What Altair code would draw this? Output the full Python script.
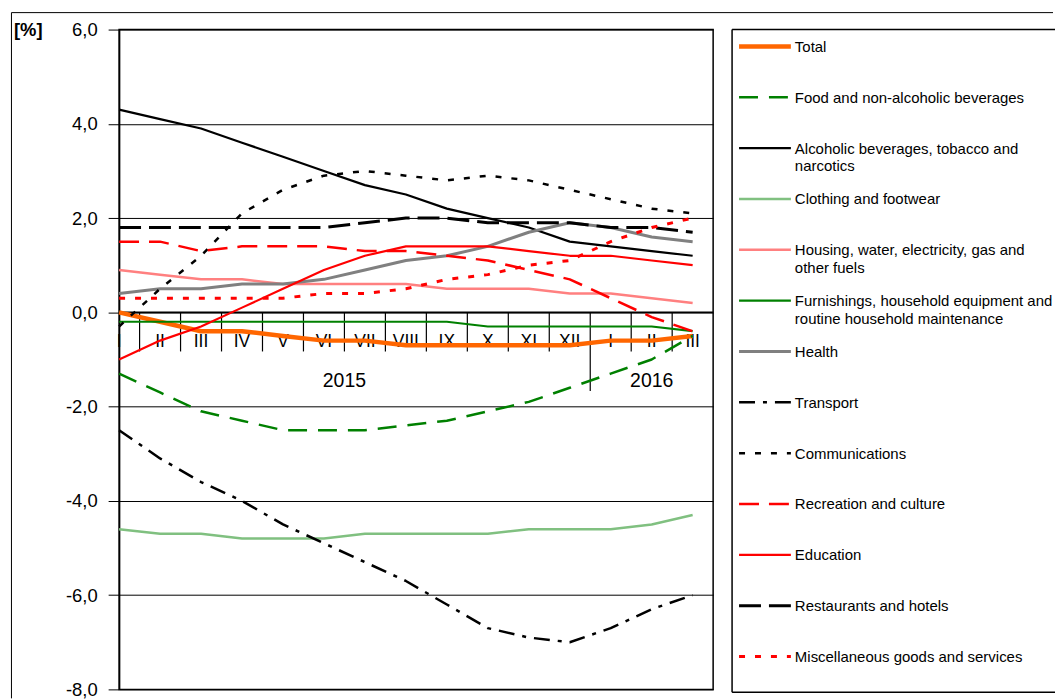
import altair as alt
import pandas as pd

# ---------------- data ----------------
months = ["I", "II", "III", "IV", "V", "VI", "VII", "VIII", "IX", "X", "XI", "XII", "I", "II", "III"]
years = ["2015", "2016"]
year_centers = [5.5, 13.0]

series_names = [
    "Total",
    "Food and non-alcoholic beverages",
    "Alcoholic beverages, tobacco and narcotics",
    "Clothing and footwear",
    "Housing, water, electricity, gas and other fuels",
    "Furnishings, household equipment and routine household maintenance",
    "Health",
    "Transport",
    "Communications",
    "Recreation and culture",
    "Education",
    "Restaurants and hotels",
    "Miscellaneous goods and services",
]
legend_labels = [
    "Total",
    "Food and non-alcoholic beverages",
    "Alcoholic beverages, tobacco and\nnarcotics",
    "Clothing and footwear",
    "Housing, water, electricity, gas and\nother fuels",
    "Furnishings, household equipment and\nroutine household maintenance",
    "Health",
    "Transport",
    "Communications",
    "Recreation and culture",
    "Education",
    "Restaurants and hotels",
    "Miscellaneous goods and services",
]

total = [0.0, -0.2, -0.4, -0.4, -0.5, -0.6, -0.6, -0.7, -0.7, -0.7, -0.7, -0.7, -0.6, -0.6, -0.5]
food = [-1.3, -1.7, -2.1, -2.3, -2.5, -2.5, -2.5, -2.4, -2.3, -2.1, -1.9, -1.6, -1.3, -1.0, -0.5]
alcohol = [4.3, 4.1, 3.9, 3.6, 3.3, 3.0, 2.7, 2.5, 2.2, 2.0, 1.8, 1.5, 1.4, 1.3, 1.2]
clothing = [-4.6, -4.7, -4.7, -4.8, -4.8, -4.8, -4.7, -4.7, -4.7, -4.7, -4.6, -4.6, -4.6, -4.5, -4.3]
housing = [0.9, 0.8, 0.7, 0.7, 0.6, 0.6, 0.6, 0.6, 0.5, 0.5, 0.5, 0.4, 0.4, 0.3, 0.2]
furnishings = [-0.2, -0.2, -0.2, -0.2, -0.2, -0.2, -0.2, -0.2, -0.2, -0.3, -0.3, -0.3, -0.3, -0.3, -0.4]
health = [0.4, 0.5, 0.5, 0.6, 0.6, 0.7, 0.9, 1.1, 1.2, 1.4, 1.7, 1.9, 1.8, 1.6, 1.5]
transport = [-2.5, -3.1, -3.6, -4.0, -4.5, -4.9, -5.3, -5.7, -6.2, -6.7, -6.9, -7.0, -6.7, -6.3, -6.0]
communications = [-0.3, 0.5, 1.2, 2.1, 2.6, 2.9, 3.0, 2.9, 2.8, 2.9, 2.8, 2.6, 2.4, 2.2, 2.1]
recreation = [1.5, 1.5, 1.3, 1.4, 1.4, 1.4, 1.3, 1.3, 1.2, 1.1, 0.9, 0.7, 0.3, -0.1, -0.4]
education = [-1.0, -0.6, -0.3, 0.1, 0.5, 0.9, 1.2, 1.4, 1.4, 1.4, 1.3, 1.2, 1.2, 1.1, 1.0]
restaurants = [1.8, 1.8, 1.8, 1.8, 1.8, 1.8, 1.9, 2.0, 2.0, 1.9, 1.9, 1.9, 1.8, 1.8, 1.7]
misc = [0.3, 0.3, 0.3, 0.3, 0.3, 0.4, 0.4, 0.5, 0.7, 0.8, 1.0, 1.1, 1.5, 1.8, 2.0]

all_values = [total, food, alcohol, clothing, housing, furnishings, health,
              transport, communications, recreation, education, restaurants, misc]

# ---------------- styles ----------------
colors = ["#FF6600", "#008000", "#000000", "#80C080", "#FF8080", "#008000", "#808080",
          "#000000", "#000000", "#FF0000", "#FF0000", "#000000", "#FF0000"]
widths = [4.5, 2.5, 2.2, 2.5, 2.5, 2.2, 3, 2.5, 2.5, 2.5, 2.2, 3, 3]
dashes = [None, [19, 11], None, None, None, None, None, [16, 8, 4, 8], [6, 10],
          [20, 10], None, [22, 8], [6, 10]]

FONT = "Liberation Sans"

rows = []
for s, vals in zip(series_names, all_values):
    for i, v in enumerate(vals):
        rows.append({"series": s, "i": i, "value": v})
df = pd.DataFrame(rows)

cat_df = pd.DataFrame({"i": list(range(len(months))), "month": months})
year_df = pd.DataFrame({"year": years, "pos": year_centers})
leg_df = pd.DataFrame({"series": series_names, "label": legend_labels,
                       "order": list(range(len(series_names)))})

W, H = 596, 662
xscale = alt.Scale(domain=[0, 14.5], nice=False, zero=False)
yscale = alt.Scale(domain=[-8, 6], nice=False, zero=False)

yaxis = alt.Axis(
    values=[-8, -6, -4, -2, 0, 2, 4, 6],
    labelExpr="replace(replace(format(datum.value, '.1f'), '.', ','), '\u2212', '-')",
    grid=True, gridColor="#000000", gridWidth=1,
    domainColor="#000000", domainWidth=1.5,
    tickColor="#000000", tickSize=11, tickWidth=1,
    labelFontSize=18.5, labelFont=FONT, labelColor="#000000", labelPadding=11,
    title="[%]", titleAngle=0, titleX=-106, titleY=0, titleAlign="left",
    titleBaseline="middle", titleFontSize=18.5, titleFontWeight="bold",
    titleFont=FONT, titleColor="#000000",
)

# base layer holding the y axis with grid
base_axis = alt.Chart(df).mark_line(opacity=0).encode(
    x=alt.X("i:Q", scale=xscale, axis=None),
    y=alt.Y("value:Q", scale=yscale, axis=yaxis),
    detail="series:N",
)

layers = [base_axis]

# category separators
seps = alt.Chart(cat_df).transform_filter("datum.i < 14").transform_calculate(
    sx="datum.i + 0.5", low="datum.i == 11 ? -1.67 : -0.83", top="0"
).mark_rule(color="#000000", strokeWidth=1.2).encode(
    x=alt.X("sx:Q", scale=xscale, axis=None),
    y=alt.Y("top:Q", scale=yscale),
    y2="low:Q",
)
layers.append(seps)

# zero (category) axis line
zero_line = alt.Chart(cat_df).transform_aggregate(n="count()").transform_calculate(
    z="0"
).mark_rule(color="#000000", strokeWidth=1.5).encode(
    y=alt.Y("z:Q", scale=yscale)
)
layers.append(zero_line)

month_text = alt.Chart(cat_df).transform_calculate(ly="-0.62").mark_text(
    font=FONT, fontSize=17.5, color="#000000", align="center", baseline="middle"
).encode(
    x=alt.X("i:Q", scale=xscale, axis=None),
    y=alt.Y("ly:Q", scale=yscale),
    text="month:N",
)
layers.append(month_text)

year_text = alt.Chart(year_df).transform_calculate(ly="-1.46").mark_text(
    font=FONT, fontSize=19.5, color="#000000", align="center", baseline="middle"
).encode(
    x=alt.X("pos:Q", scale=xscale, axis=None),
    y=alt.Y("ly:Q", scale=yscale),
    text="year:N",
)
layers.append(year_text)

for s, c, w, d in zip(series_names, colors, widths, dashes):
    kw = dict(color=c, strokeWidth=w, strokeJoin="round")
    if d is not None:
        kw["strokeDash"] = d
    layers.append(
        alt.Chart(df).transform_filter(alt.datum.series == s).mark_line(**kw).encode(
            x=alt.X("i:Q", scale=xscale, axis=None),
            y=alt.Y("value:Q", scale=yscale),
        )
    )

# outer chart frame (decoration)
frame_top = alt.Chart(cat_df).transform_aggregate(n="count()").mark_rule(
    color="#000000", strokeWidth=1, clip=False
).encode(x=alt.value(-108), x2=alt.value(937), y=alt.value(-17))
frame_left = alt.Chart(cat_df).transform_aggregate(n="count()").mark_rule(
    color="#000000", strokeWidth=1, clip=False
).encode(x=alt.value(-108), y=alt.value(-17), y2=alt.value(671))
layers += [frame_top, frame_left]

plot = alt.layer(*layers).properties(
    width=W, height=H,
    view=alt.ViewBackground(stroke="#000000", strokeWidth=1.5),
)

# ---------------- legend panel ----------------
LW, LH = 322, 665
lyscale = alt.Scale(domain=[0, 12], range=[17, 629])

leg_layers = []
for s, c, w, d in zip(series_names, colors, widths, dashes):
    kw = dict(color=c, strokeWidth=w)
    if d is not None:
        kw["strokeDash"] = d
    leg_layers.append(
        alt.Chart(leg_df).transform_filter(alt.datum.series == s).mark_rule(**kw).encode(
            y=alt.Y("order:Q", scale=lyscale, axis=None),
            x=alt.value(7), x2=alt.value(59),
        )
    )
leg_layers.append(
    alt.Chart(leg_df).mark_text(
        font=FONT, fontSize=15, color="#000000", align="left", baseline="top",
        dy=-6.5, lineBreak="\n", lineHeight=17.5
    ).encode(
        y=alt.Y("order:Q", scale=lyscale, axis=None),
        x=alt.value(63),
        text="label:N",
    )
)
box_kw = dict(color="#000000", strokeWidth=1.5)
one = leg_df.head(1)
leg_layers.append(alt.Chart(one).mark_rule(**box_kw).encode(
    x=alt.value(0), y=alt.value(0), y2=alt.value(LH)))
leg_layers.append(alt.Chart(one).mark_rule(**box_kw).encode(
    x=alt.value(0), x2=alt.value(LW + 2), y=alt.value(0)))
leg_layers.append(alt.Chart(one).mark_rule(**box_kw).encode(
    x=alt.value(0), x2=alt.value(LW + 2), y=alt.value(LH)))

legend = alt.layer(*leg_layers).properties(
    width=LW, height=LH,
    view=alt.ViewBackground(stroke=None),
)

chart = alt.hconcat(plot, legend, spacing=19, bounds="flush").properties(
    padding={"left": 9.5, "top": 9.5, "right": 0, "bottom": 0},
    background="#FFFFFF",
).configure(font=FONT)

chart.save("out.html", embed_options={"renderer": "svg", "actions": False})
